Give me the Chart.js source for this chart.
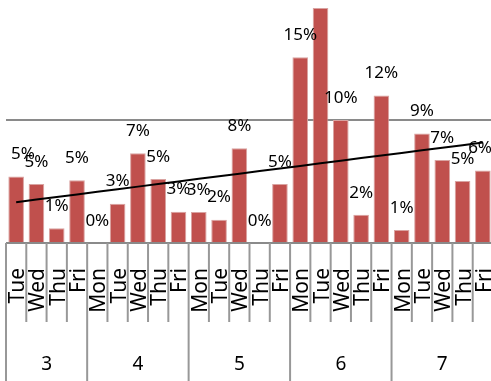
<!DOCTYPE html>
<html>
<head>
<meta charset="utf-8">
<script src="https://cdn.jsdelivr.net/npm/chart.js@4.4.0/dist/chart.umd.min.js"></script>
<style>
    html, body { margin: 0; padding: 0; background: #fff; overflow: hidden; width: 491px; height: 381px; }
    #wrap { position: absolute; left: 0; top: -40px; width: 495px; height: 421px; }
</style>
</head>
<body>
<div id="wrap"><canvas id="myChart"></canvas></div>
<script>
'use strict';
// data
const days = ['Tue', 'Wed', 'Thu', 'Fri',
    'Mon', 'Tue', 'Wed', 'Thu', 'Fri',
    'Mon', 'Tue', 'Wed', 'Thu', 'Fri',
    'Mon', 'Tue', 'Wed', 'Thu', 'Fri',
    'Mon', 'Tue', 'Wed', 'Thu', 'Fri'];
const weeks = ['3', '3', '3', '3',
    '4', '4', '4', '4', '4',
    '5', '5', '5', '5', '5',
    '6', '6', '6', '6', '6',
    '7', '7', '7', '7', '7'];
const shares = [5.4, 4.8, 1.2, 5.1,
    0, 3.2, 7.3, 5.2, 2.55,
    2.52, 1.9, 7.7, 0, 4.8,
    15.1, 19.1, 10, 2.3, 12,
    1.05, 8.9, 6.75, 5.05, 5.9];
const yTicks = [0, 10, 20];

// least squares line over the daily shares
const trendLine = vals => {
    const n = vals.length;
    const mx = (n - 1) / 2;
    const my = vals.reduce((a, b) => a + b, 0) / n;
    let sxy = 0, sxx = 0;
    vals.forEach((v, i) => {
        sxy += (i - mx) * (v - my);
        sxx += (i - mx) * (i - mx);
    });
    const slope = sxy / sxx;
    return vals.map((v, i) => my + slope * (i - mx));
}

const fontName = '"Noto Sans", "Open Sans", sans-serif';

// percent labels above each bar
const barLabels = {
    id: 'barLabels',
    afterDatasetsDraw(chart) {
        const ctx = chart.ctx;
        const area = chart.chartArea;
        const bars = chart.getDatasetMeta(1).data;
        ctx.save();
        ctx.font = `17px ${fontName}`;
        ctx.fillStyle = '#000';
        ctx.textAlign = 'center';
        ctx.textBaseline = 'middle';
        bars.forEach((bar, i) => {
            const txt = Math.round(shares[i]) + '%';
            const w = ctx.measureText(txt).width;
            let cx = bar.x;
            if (cx - w / 2 < area.left + 5) cx = area.left + 5 + w / 2;
            if (cx + w / 2 > area.right - 1) cx = area.right - 1 - w / 2;
            ctx.fillText(txt, cx, bar.y - 22);
        });
        ctx.restore();
    }
};

// two level category axis: weekdays and week numbers
const groupAxis = {
    id: 'groupAxis',
    afterDraw(chart) {
        const ctx = chart.ctx;
        const x = chart.scales.x;
        const base = chart.chartArea.bottom;
        const bottom = chart.height;
        const step = x.getPixelForValue(1) - x.getPixelForValue(0);
        const edge = i => x.getPixelForValue(0) - step / 2 + step * i;

        ctx.save();
        ctx.strokeStyle = '#989898';
        ctx.lineWidth = 2;
        for (let i = 0; i <= days.length; i++) {
            const newWeek = i == 0 || i == days.length || weeks[i] != weeks[i - 1];
            ctx.beginPath();
            ctx.moveTo(edge(i), base);
            ctx.lineTo(edge(i), newWeek ? bottom : base + 79);
            ctx.stroke();
        }

        ctx.fillStyle = '#000';
        ctx.font = `21px ${fontName}`;
        ctx.textAlign = 'right';
        ctx.textBaseline = 'alphabetic';
        days.forEach((d, i) => {
            ctx.save();
            ctx.translate(x.getPixelForValue(i) + 8, base + 25);
            ctx.rotate(-Math.PI / 2);
            ctx.fillText(d, 0, 0);
            ctx.restore();
        });

        ctx.font = `19px ${fontName}`;
        ctx.textAlign = 'center';
        let start = 0;
        for (let i = 1; i <= weeks.length; i++) {
            if (i == weeks.length || weeks[i] != weeks[start]) {
                ctx.fillText(weeks[start], (edge(start) + edge(i)) / 2, base + 127);
                start = i;
            }
        }
        ctx.restore();
    }
};

const ctx = document.getElementById('myChart');
const myChart = new Chart(ctx.getContext('2d'), {
    type: 'bar',
    data: {
        labels: days,
        datasets: [{
            type: 'line',
            data: trendLine(shares),
            borderColor: '#000',
            borderWidth: 2,
            pointRadius: 0,
            fill: false,
            order: 0
        }, {
            data: shares,
            backgroundColor: '#C0504D',
            borderColor: '#D9A3A1',
            borderWidth: 1,
            barPercentage: 0.77,
            categoryPercentage: 1,
            order: 1
        }]
    },
    options: {
        responsive: true,
        maintainAspectRatio: false,
        animation: false,
        layout: {
            padding: { left: 6, right: 2, top: 37, bottom: 138 }
        },
        plugins: {
            legend: { display: false },
            tooltip: { enabled: false }
        },
        scales: {
            x: {
                display: false
            },
            y: {
                min: yTicks[0],
                max: yTicks[yTicks.length - 1],
                afterBuildTicks: axis => {
                    axis.ticks = yTicks.map(v => ({ value: v }));
                },
                ticks: { display: false },
                border: { display: false },
                grid: {
                    color: '#8a8a8a',
                    lineWidth: 2,
                    drawTicks: false
                }
            }
        }
    },
    plugins: [barLabels, groupAxis]
});
</script>
</body>
</html>
